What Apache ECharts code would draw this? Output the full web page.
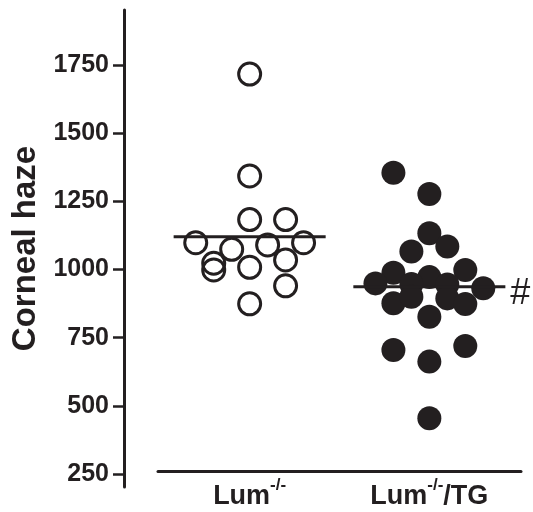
<!DOCTYPE html>
<html>
<head>
<meta charset="utf-8">
<script src="https://cdn.jsdelivr.net/npm/echarts@6/dist/echarts.min.js"></script>
<style>
html,body{margin:0;padding:0;background:#fff;}
#chart{width:533px;height:512px;}
</style>
</head>
<body>
<div id="chart"></div>
<script>
// group labels (main text, superscript, tail)
var catMain=["Lum","Lum"];
var catSup=["-/-","-/-"];
var catTail=["","/TG"];

// Lum-/- : column slot inside the group and corneal haze value
var lumCol=[0,0,0,2,-3,3,1,-1,-2,-2,0,2,2,0];
var lumVal=[1717,1343,1183,1183,1098,1098,1090,1074,1023,998,1008,1035,940,874];
var lumMean=1120;

// Lum-/-/TG
var tgCol=[-2,0,0,1,-1,-2,2,-3,3,0,-1,1,-2,-1,1,2,0,-2,2,0,0];
var tgVal=[1355,1277,1133,1084,1066,988,998,949,931,972,947,945,876,900,894,873,827,705,719,662,454];
var tgMean=937;

var yTicks=[250,500,750,1000,1250,1500,1750];

var fontFam="'Liberation Sans', Arial, Helvetica, sans-serif";
var ink="#231f20";
var colStep=0.1, meanHalf=0.423;

function points(iGroup,aCol,aVal){
    var aData=[];
    for(var i=0;i<aVal.length;i++){
        aData.push([iGroup+aCol[i]*colStep,aVal[i]]);
    }
    return aData;
}
function meanLine(iGroup,fMean){
    return [[iGroup-meanHalf,fMean],[iGroup+meanHalf,fMean]];
}

var oChart=echarts.init(document.getElementById("chart"),null,{renderer:"canvas"});
var option={
    animation:false,
    backgroundColor:"#fff",
    grid:{left:158,right:12,top:10,bottom:25},
    xAxis:{
        type:"value",
        min:0.49,
        max:2.51,
        offset:-16,
        splitLine:{show:false},
        axisTick:{show:false},
        axisLine:{show:true,lineStyle:{color:ink,width:3}},
        axisLabel:{
            customValues:[1,2],
            margin:6,
            formatter:function(v){
                var i=Math.round(v)-1;
                return "{b|"+catMain[i]+"}{s|"+catSup[i]+"}"+(catTail[i]?"{b|"+catTail[i]+"}":"");
            },
            rich:{
                b:{fontSize:27,fontWeight:"bold",color:ink,fontFamily:fontFam,lineHeight:40},
                s:{fontSize:17,fontWeight:"bold",color:ink,fontFamily:fontFam,lineHeight:17,verticalAlign:"top"}
            }
        }
    },
    yAxis:{
        type:"value",
        min:202,
        max:1952,
        offset:34,
        splitLine:{show:false},
        axisLine:{show:true,lineStyle:{color:ink,width:3}},
        axisTick:{show:true,length:11,customValues:yTicks,lineStyle:{color:ink,width:2.5}},
        axisLabel:{customValues:yTicks,margin:15,fontSize:25,fontWeight:"bold",color:ink,fontFamily:fontFam,
            formatter:function(v){return String(v);}},
        name:"Corneal haze",
        nameLocation:"middle",
        nameRotate:90,
        nameGap:69,
        nameTextStyle:{fontSize:33,fontWeight:"bold",color:ink,fontFamily:fontFam}
    },
    series:[
        {
            type:"scatter",
            symbol:"circle",
            symbolSize:22,
            itemStyle:{color:"transparent",borderColor:ink,borderWidth:3,opacity:1},
            emphasis:{disabled:true},
            data:points(1,lumCol,lumVal)
        },
        {
            type:"scatter",
            symbol:"circle",
            symbolSize:24,
            itemStyle:{color:ink,opacity:1},
            emphasis:{disabled:true},
            data:points(2,tgCol,tgVal)
        },
        {
            type:"line",
            symbol:"none",
            z:5,
            lineStyle:{color:ink,width:3},
            emphasis:{disabled:true},
            data:meanLine(1,lumMean)
        },
        {
            type:"line",
            symbol:"none",
            z:5,
            lineStyle:{color:ink,width:3},
            emphasis:{disabled:true},
            endLabel:{show:true,formatter:"#",distance:5,offset:[0,7],
                fontSize:36,fontWeight:"normal",color:ink,fontFamily:fontFam},
            data:meanLine(2,tgMean)
        }
    ]
};
oChart.setOption(option);
</script>
</body>
</html>
